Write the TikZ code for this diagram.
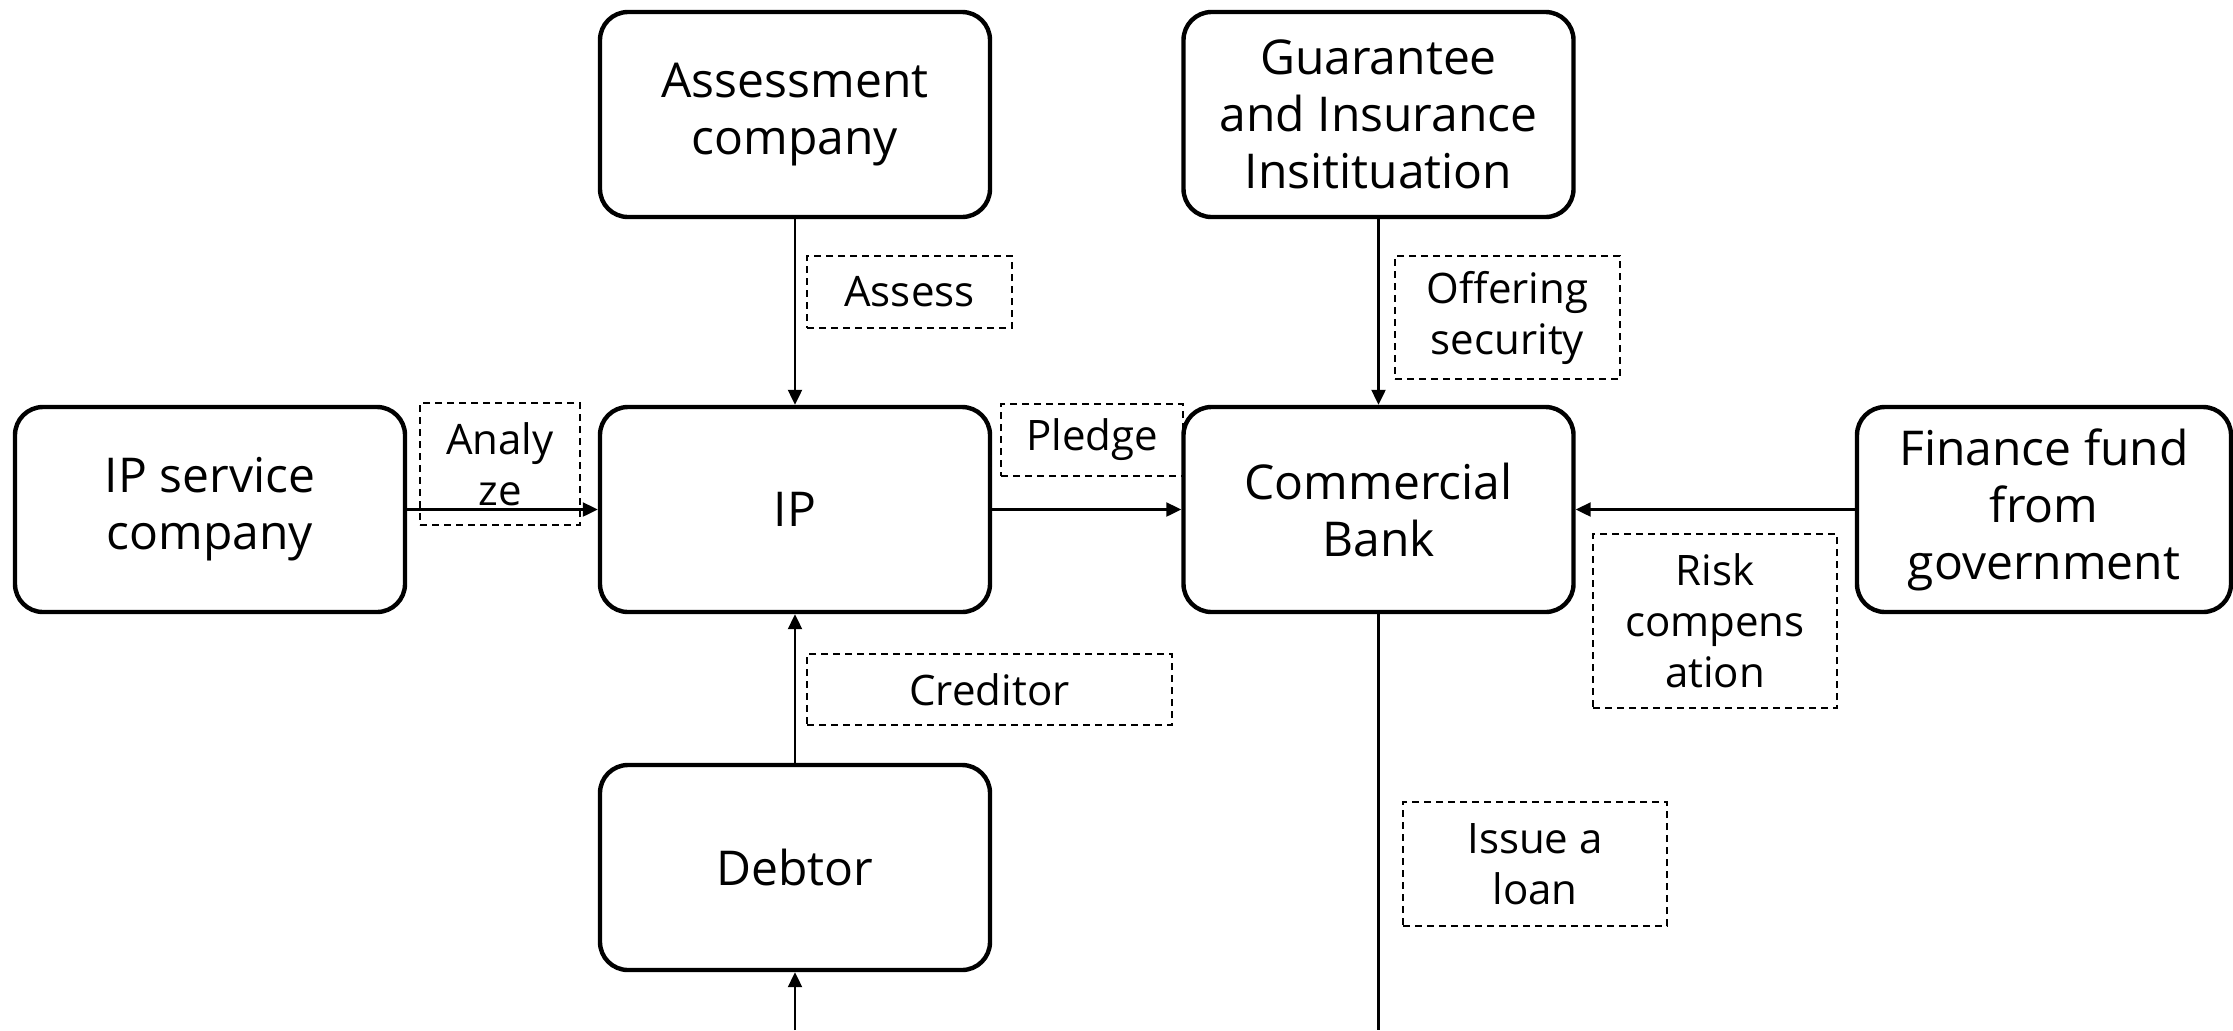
\documentclass[tikz,border=0pt]{standalone}
\usepackage{fontspec}
\setmainfont{Open Sans}
\usetikzlibrary{arrows.meta}
\tikzset{
  box/.style={draw, line width=2.2pt, rounded corners=14pt, minimum width=195pt, minimum height=102.5pt, inner sep=0pt, align=center, font=\fontsize{24}{28.5}\selectfont},
  lbl/.style={draw, dashed, dash pattern=on 3.5pt off 2.5pt, line width=0.7pt, inner sep=0pt, align=center, font=\fontsize{21}{25.5}\selectfont},
  conn/.style={line width=1.1pt, -{Triangle[length=7.5pt,width=7pt]}},
  plain/.style={line width=1.1pt}
}
\begin{document}
\begin{tikzpicture}[x=0.5pt,y=-0.5pt]
\useasboundingbox (0,0) rectangle (2233,1030);
\begin{scope}
\clip (0,0) rectangle (2233,1030);
\node[box] (assess) at (795,114.5) {Assessment\\company};
\node[box] (guar) at (1378.5,114.5) {Guarantee\\and Insurance\\Insitituation};
\node[box] (ipsvc) at (210,509.5) {IP service\\company};
\node[box] (ip) at (795,509.5) {IP};
\node[box] (bank) at (1378.5,509.5) {Commercial\\Bank};
\node[box, minimum width=187pt] (fund) at (2044,509.5) {Finance fund\\from\\government};
\node[box] (debtor) at (795,867.5) {Debtor};

\node[lbl, minimum width=102.5pt, minimum height=36pt] (lassess) at (909.5,292) {Assess};
\node[lbl, minimum width=112.5pt, minimum height=61.5pt] (loffer) at (1507.5,317.5) {Offering\\security};
\node[lbl, minimum width=80pt, minimum height=61pt] (lanalyze) at (500,464) {Analy\\ze};
\node[lbl, minimum width=91pt, minimum height=36pt] (lpledge) at (1092,440) {Pledge};
\node[lbl, minimum width=122pt, minimum height=87pt] (lrisk) at (1715,621) {Risk\\compens\\ation};
\node[lbl, minimum width=182.5pt, minimum height=35.5pt] (lcred) at (989.5,689.5) {Creditor};
\node[lbl, minimum width=132pt, minimum height=62pt] (lissue) at (1535,864) {Issue a\\loan};

\coordinate (debtin) at (795,1030);
\coordinate (bankout) at (1378.5,1030);

\draw[conn] (assess.south) -- (ip.north);
\draw[conn] (guar.south) -- (bank.north);
\draw[conn] (ipsvc.east) -- (ip.west);
\draw[conn] (ip.east) -- (bank.west);
\draw[conn] (fund.west) -- (bank.east);
\draw[conn] (debtor.north) -- (ip.south);
\draw[conn] (debtin) -- (debtor.south);
\draw[plain] (bank.south) -- (bankout);
\end{scope}
\end{tikzpicture}
\end{document}
